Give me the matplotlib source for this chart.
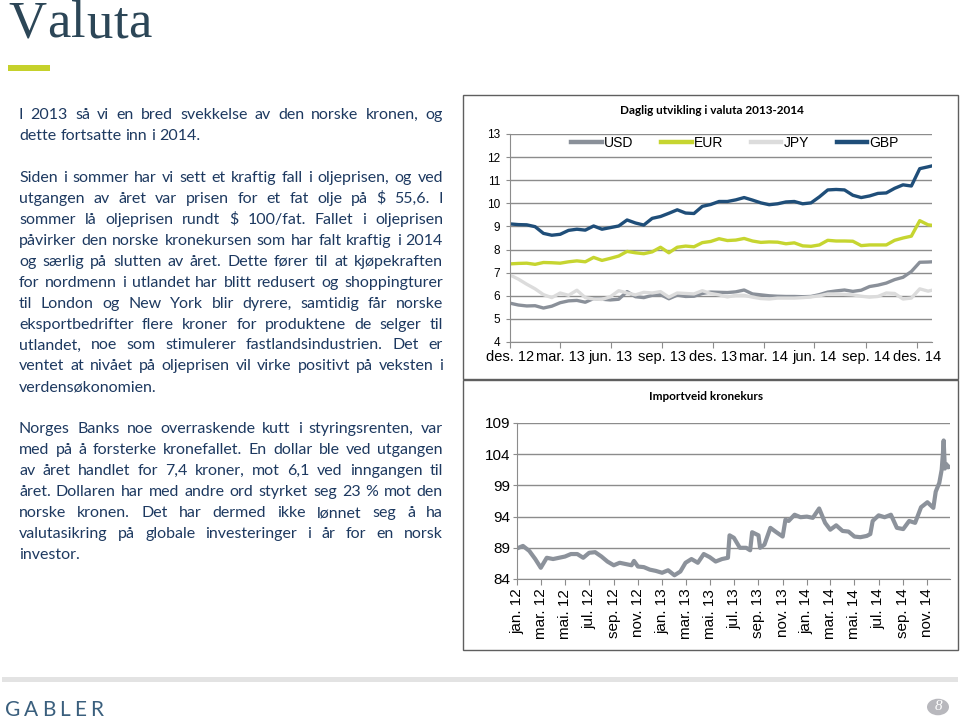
import numpy as np
import pandas as pd
import matplotlib
matplotlib.use("Agg")
import matplotlib.pyplot as plt
from matplotlib.patches import Rectangle, Circle

plt.rcParams['font.family'] = ['Liberation Sans', 'DejaVu Sans']

# ---- data: daily currency (NOK per unit / per 100 JPY), sampled every 15 days
fx_dates = list(pd.date_range("2012-12-31", periods=51, freq="15D")) + [pd.Timestamp("2015-01-27")]
usd = [5.68, 5.60, 5.56, 5.57, 5.47, 5.55, 5.70, 5.78, 5.80, 5.72,
       5.88, 5.85, 5.82, 5.85, 6.18, 5.96, 5.92, 6.02, 6.05, 5.87,
       6.03, 5.97, 5.98, 6.10, 6.16, 6.15, 6.14, 6.17, 6.25, 6.08,
       6.04, 6.00, 5.98, 5.97, 5.97, 5.96, 5.97, 6.05, 6.16, 6.21,
       6.25, 6.19, 6.24, 6.40, 6.46, 6.55, 6.70, 6.80, 7.05, 7.45, 7.46, 7.47]
eur = [7.38, 7.40, 7.41, 7.36, 7.44, 7.43, 7.41, 7.47, 7.51, 7.47,
       7.66, 7.53, 7.62, 7.72, 7.92, 7.86, 7.82, 7.90, 8.10, 7.86,
       8.10, 8.15, 8.12, 8.30, 8.35, 8.47, 8.39, 8.41, 8.48, 8.37,
       8.31, 8.33, 8.32, 8.25, 8.29, 8.16, 8.14, 8.20, 8.40, 8.37,
       8.37, 8.36, 8.17, 8.20, 8.20, 8.20, 8.40, 8.50, 8.58, 9.25, 9.07, 9.05]
jpy = [6.90, 6.72, 6.50, 6.30, 6.05, 5.92, 6.12, 6.02, 6.24, 5.92,
       5.86, 5.84, 5.96, 6.22, 6.12, 6.04, 6.15, 6.12, 6.18, 5.94,
       6.12, 6.10, 6.08, 6.22, 6.10, 6.04, 5.95, 6.02, 6.02, 5.94,
       5.88, 5.86, 5.90, 5.90, 5.90, 5.92, 5.95, 6.00, 6.08, 6.08,
       6.06, 6.04, 5.98, 5.94, 5.97, 6.12, 6.10, 5.86, 5.90, 6.30, 6.20, 6.24]
gbp = [9.11, 9.08, 9.07, 8.99, 8.70, 8.62, 8.66, 8.83, 8.88, 8.84,
       9.02, 8.88, 8.95, 9.02, 9.28, 9.15, 9.06, 9.35, 9.43, 9.57,
       9.72, 9.58, 9.56, 9.87, 9.95, 10.08, 10.08, 10.15, 10.25, 10.14,
       10.02, 9.94, 9.98, 10.06, 10.08, 9.98, 10.02, 10.28, 10.58, 10.60,
       10.58, 10.35, 10.25, 10.32, 10.43, 10.45, 10.65, 10.80, 10.75, 11.50, 11.58, 11.62]
fx_tick_dates = ["2012-12-31", "2013-03-31", "2013-06-30", "2013-09-30", "2013-12-31",
                 "2014-03-31", "2014-06-30", "2014-09-30", "2014-12-31"]
fx_tick_labels = ["des. 12", "mar. 13", "jun. 13", "sep. 13", "des. 13",
                  "mar. 14", "jun. 14", "sep. 14", "des. 14"]

# ---- data: importveid kronekurs
kurs_dates = [
    "2012-01-01", "2012-01-16", "2012-02-01", "2012-02-16", "2012-03-01", "2012-03-16",
    "2012-04-01", "2012-04-16", "2012-05-01", "2012-05-16", "2012-06-01", "2012-06-16",
    "2012-07-01", "2012-07-16", "2012-08-01", "2012-08-16", "2012-09-01", "2012-09-16",
    "2012-10-01", "2012-10-16", "2012-10-22", "2012-11-01", "2012-11-16", "2012-12-01",
    "2012-12-16", "2013-01-01", "2013-01-16", "2013-02-01", "2013-02-16", "2013-03-01",
    "2013-03-16", "2013-04-01", "2013-04-16", "2013-05-01", "2013-05-16", "2013-06-01",
    "2013-06-16", "2013-06-20", "2013-07-01", "2013-07-16", "2013-08-01", "2013-08-11",
    "2013-08-16", "2013-09-01", "2013-09-05", "2013-09-16", "2013-10-01", "2013-10-16",
    "2013-11-01", "2013-11-08", "2013-11-16", "2013-12-01", "2013-12-16", "2014-01-01",
    "2014-01-16", "2014-02-01", "2014-02-16", "2014-03-01", "2014-03-16", "2014-04-01",
    "2014-04-16", "2014-05-01", "2014-05-16", "2014-06-01", "2014-06-10", "2014-06-16",
    "2014-07-01", "2014-07-16", "2014-08-01", "2014-08-16", "2014-09-01", "2014-09-16",
    "2014-10-01", "2014-10-16", "2014-11-01", "2014-11-16", "2014-11-22", "2014-12-01",
    "2014-12-07", "2014-12-10", "2014-12-12", "2014-12-15", "2014-12-19", "2014-12-23",
    "2014-12-28"]
kurs = [
    88.9, 89.3, 88.5, 87.2, 85.8, 87.4,
    87.2, 87.4, 87.6, 88.0, 88.0, 87.4,
    88.2, 88.3, 87.6, 86.8, 86.2, 86.6,
    86.4, 86.2, 86.9, 86.0, 85.9, 85.5,
    85.3, 85.0, 85.4, 84.6, 85.2, 86.6,
    87.2, 86.6, 88.0, 87.5, 86.8, 87.2,
    87.4, 91.0, 90.6, 89.0, 89.0, 88.6,
    91.5, 91.0, 89.0, 89.5, 92.2, 91.5,
    90.8, 93.5, 93.3, 94.3, 93.9, 94.0,
    93.8, 95.3, 93.0, 91.9, 92.6, 91.7,
    91.6, 90.8, 90.7, 90.9, 91.2, 93.3,
    94.2, 93.9, 94.3, 92.2, 92.0, 93.3,
    93.0, 95.5, 96.3, 95.4, 98.0, 99.4,
    101.5, 104.0, 106.2, 101.7, 102.4, 101.9,
    102.0]
kurs_tick_dates = pd.date_range("2012-01-01", "2014-11-01", freq="2MS")
kurs_tick_labels = ["jan. 12", "mar. 12", "mai. 12", "jul. 12", "sep. 12", "nov. 12",
                    "jan. 13", "mar. 13", "mai. 13", "jul. 13", "sep. 13", "nov. 13",
                    "jan. 14", "mar. 14", "mai. 14", "jul. 14", "sep. 14", "nov. 14"]

paragraphs = [
    ["I 2013 så vi en bred svekkelse av den norske kronen, og",
     "dette fortsatte inn i 2014."],
    ["Siden i sommer har vi sett et kraftig fall i oljeprisen, og ved",
     "utgangen av året var prisen for et fat olje på $ 55,6. I",
     "sommer lå oljeprisen rundt $ 100/fat. Fallet i oljeprisen",
     "påvirker den norske kronekursen som har falt kraftig i 2014",
     "og særlig på slutten av året. Dette fører til at kjøpekraften",
     "for nordmenn i utlandet har blitt redusert og shoppingturer",
     "til London og New York blir dyrere, samtidig får norske",
     "eksportbedrifter flere kroner for produktene de selger til",
     "utlandet, noe som stimulerer fastlandsindustrien. Det er",
     "ventet at nivået på oljeprisen vil virke positivt på veksten i",
     "verdensøkonomien."],
    ["Norges Banks noe overraskende kutt i styringsrenten, var",
     "med på å forsterke kronefallet. En dollar ble ved utgangen",
     "av året handlet for 7,4 kroner, mot 6,1 ved inngangen til",
     "året. Dollaren har med andre ord styrket seg 23 % mot den",
     "norske kronen. Det har dermed ikke lønnet seg å ha",
     "valutasikring på globale investeringer i år for en norsk",
     "investor."],
]

W, H = 960, 722
fig = plt.figure(figsize=(W / 100, H / 100), dpi=100)
renderer = fig.canvas.get_renderer()


def fx(x):
    return x / W


def fy(y):
    return 1 - y / H


def add_ax(l, t, r, b):
    return fig.add_axes([l / W, 1 - b / H, (r - l) / W, (b - t) / H])


def text_w(s, **kw):
    t = fig.text(0, 0, s, **kw)
    w = t.get_window_extent(renderer).width
    t.remove()
    return w


def spread(tokens, x0, x1, y, justify=True, gap=None, **kw):
    widths = [text_w(s, **kw) for s in tokens]
    if justify and len(tokens) > 1:
        gap = (x1 - x0 - sum(widths)) / (len(tokens) - 1)
    x = x0
    for s, w in zip(tokens, widths):
        fig.text(fx(x), fy(y), s, ha='left', va='baseline', **kw)
        x += w + gap


# ---- slide title
title_kw = dict(family='Liberation Serif', fontsize=38, color='#2c4657')
spread(list("Valuta"), 8, 152, 37, **title_kw)
fig.add_artist(Rectangle((fx(8), fy(71)), 42 / W, 6 / H, transform=fig.transFigure,
                         color='#c5d12b', lw=0))

# ---- body text, justified
body_kw = dict(family='Lato', color='#1d3960')
fs = 12 * 181 / text_w("dette fortsatte inn i 2014.", fontsize=12, **body_kw)
body_kw['fontsize'] = fs
space = text_w("a a", **body_kw) - text_w("aa", **body_kw)
line = 0
for para in paragraphs:
    for j, s in enumerate(para):
        last = j == len(para) - 1
        spread(s.split(" "), 19, 443, 119 + 20.95 * line, justify=not last, gap=space, **body_kw)
        line += 1
    line += 1

# ---- chart frames
box_kw = dict(transform=fig.transFigure, fill=False, ec='#5f5f5f', lw=1.0)
fig.add_artist(Rectangle((fx(463), fy(379)), 495 / W, 284 / H, **box_kw))
fig.add_artist(Rectangle((fx(463), fy(650)), 495 / W, 270 / H, **box_kw))

grid_c = '#8c8c8c'

# ---- top chart
ax1 = add_ax(510, 134, 932, 342)
x1 = pd.to_datetime(fx_dates)
ax1.plot(x1, usd, color='#8a9099', lw=2.4, label='USD')
ax1.plot(x1, eur, color='#c6d530', lw=2.4, label='EUR')
ax1.plot(x1, jpy, color='#dcdcdc', lw=2.4, label='JPY')
ax1.plot(x1, gbp, color='#1f4e79', lw=2.4, label='GBP')
ax1.set_xlim(pd.Timestamp("2012-12-31"), pd.Timestamp("2015-01-27"))
ax1.set_ylim(4, 13)
ax1.set_yticks(range(4, 14))
ax1.set_xticks(pd.to_datetime(fx_tick_dates))
ax1.set_xticklabels(fx_tick_labels)
ax1.grid(axis='y', color=grid_c, lw=1.0)
ax1.set_axisbelow(True)
for s in ['top', 'right']:
    ax1.spines[s].set_visible(False)
for s in ['left', 'bottom']:
    ax1.spines[s].set_color(grid_c)
ax1.tick_params(axis='x', length=4, color=grid_c, labelsize=10.5, pad=1.5)
ax1.tick_params(axis='y', length=3, color=grid_c, labelsize=8.5, pad=4)
leg = ax1.legend(ncol=4, loc='center', bbox_to_anchor=(0.533, 0.957), frameon=False,
                 fontsize=10, handlelength=2.2, handletextpad=0.15, columnspacing=2.0,
                 borderaxespad=0, borderpad=0)
for h in leg.get_lines():
    h.set_linewidth(3.2)
fig.text(fx(712), fy(111), "Daglig utvikling i valuta 2013-2014", ha='center', va='center',
         family='Lato', fontweight='bold', fontsize=8.5, color='#000000')

# ---- bottom chart
ax2 = add_ax(517, 423, 950, 579)
ax2.plot(pd.to_datetime(kurs_dates), kurs, color='#8c929b', lw=3.0)
ax2.set_xlim(pd.Timestamp("2012-01-01"), pd.Timestamp("2014-12-28"))
ax2.set_ylim(84, 109)
ax2.set_yticks(range(84, 110, 5))
ax2.set_xticks(kurs_tick_dates)
ax2.set_xticklabels(kurs_tick_labels, rotation=90)
ax2.grid(axis='y', color=grid_c, lw=1.0)
ax2.set_axisbelow(True)
for s in ['top', 'right']:
    ax2.spines[s].set_visible(False)
for s in ['left', 'bottom']:
    ax2.spines[s].set_color(grid_c)
ax2.tick_params(axis='x', length=4, color=grid_c, labelsize=11, pad=3)
ax2.tick_params(axis='y', length=3, color=grid_c, labelsize=11, pad=2)
fig.text(fx(706), fy(397), "Importveid kronekurs", ha='center', va='center',
         family='Lato', fontweight='bold', fontsize=8.5, color='#000000')

# ---- footer
fig.add_artist(Rectangle((fx(2), fy(682)), 956 / W, 5 / H, transform=fig.transFigure,
                         color='#e3e3e3', lw=0))
spread(list("GABLER"), 5, 103, 716, family='Lato', fontsize=15, color='#3a5f7d')
fig.add_artist(Circle((fx(938), fy(707)), 11 / W, transform=fig.transFigure,
                      color='#b8b8bd', lw=0))
fig.text(fx(938), fy(707), "8", ha='center', va='center', family='Liberation Serif',
         style='italic', fontsize=11, color='white')

fig.savefig("out.png", dpi=100)
